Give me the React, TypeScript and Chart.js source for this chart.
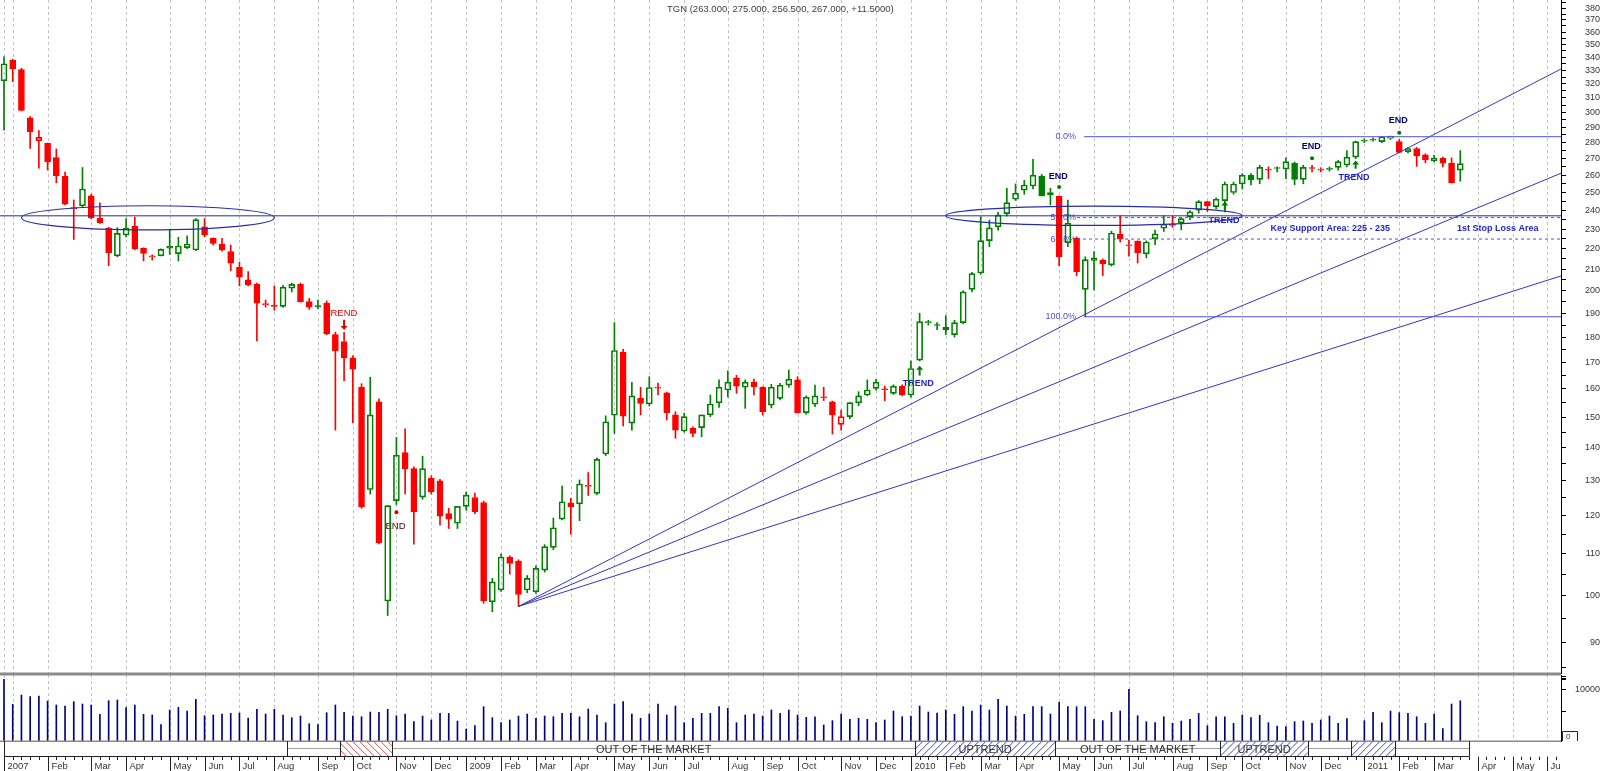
import { useEffect, useRef } from "react";
import { Chart, registerables } from "chart.js";

Chart.register(...registerables);

const FONT = "'Liberation Sans', Arial, Helvetica, sans-serif";
Chart.defaults.font.family = FONT;

// ---------- weekly OHLC (bar index 0 = first week of the chart) ----------
const opens = [
  322.2, 337.8, 330.5, 296.2, 281.2, 279.5, 270.6, 259.4, 241.0, 242.6,
  248.1, 235.7, 230.5, 216.5, 227.0, 231.7, 220.2, 216.0, 216.5, 221.2,
  217.6, 220.6, 219.4, 231.3, 225.3, 222.4, 218.6, 210.9, 205.0, 202.9,
  193.8, 193.3, 193.0, 201.1, 202.9, 195.1, 193.2, 194.5, 181.0, 178.2,
  171.7, 160.6, 127.3, 155.4, 98.8, 124.1, 138.4, 133.5, 125.1, 130.6,
  129.8, 120.5, 117.9, 122.5, 125.0, 123.6, 98.6, 101.3, 109.2, 108.2,
  101.3, 100.9, 106.0, 111.6, 119.0, 123.5, 123.2, 128.2, 126.2, 138.0,
  150.7, 173.9, 148.0, 156.6, 154.6, 160.3, 158.6, 150.8, 145.4, 146.3,
  146.5, 150.8, 155.0, 159.6, 164.1, 160.6, 162.5, 160.6, 154.2, 156.6,
  161.4, 163.3, 151.6, 154.5, 156.8, 155.4, 147.6, 150.2, 155.0, 157.8,
  160.2, 160.0, 158.4, 161.0, 157.8, 170.8, 186.0, 185.0, 184.0, 181.0,
  186.0, 200.6, 208.2, 224.1, 231.2, 238.3, 246.2, 251.4, 253.7, 259.5,
  248.6, 247.9, 223.1, 225.3, 200.6, 214.3, 214.4, 212.1, 227.5, 221.5,
  223.9, 217.5, 225.1, 230.5, 232.0, 233.4, 236.6, 240.2, 244.9, 242.1,
  245.4, 250.0, 254.9, 260.1, 257.6, 263.0, 264.0, 263.7, 267.2, 257.6,
  264.5, 263.0, 263.5, 264.7, 266.1, 270.9, 281.0, 281.5, 280.6, 282.8,
  280.6, 274.3, 276.3, 272.3, 268.8, 270.2, 267.2, 263.0,
];
const highs = [
  340.3, 338.5, 331.5, 297.0, 287.7, 279.8, 276.0, 261.9, 245.8, 264.6,
  249.0, 244.2, 231.0, 230.8, 235.6, 236.4, 220.5, 217.0, 220.0, 229.6,
  225.8, 226.6, 235.6, 235.6, 225.5, 225.3, 221.9, 213.4, 208.9, 203.5,
  195.8, 202.2, 202.5, 203.5, 203.5, 196.5, 195.8, 195.4, 182.0, 181.9,
  172.5, 161.9, 164.3, 156.4, 122.7, 143.3, 146.1, 134.0, 137.3, 131.3,
  130.3, 122.0, 122.5, 126.6, 126.3, 124.0, 104.0, 110.0, 109.5, 108.5,
  104.7, 107.0, 112.3, 119.3, 128.3, 124.8, 130.1, 132.3, 136.8, 150.5,
  186.0, 175.0, 162.4, 160.6, 164.5, 162.1, 158.8, 151.9, 151.4, 146.8,
  150.8, 157.8, 163.3, 166.7, 165.0, 163.3, 163.6, 160.8, 161.7, 162.0,
  167.0, 164.5, 157.5, 161.4, 160.6, 155.6, 152.5, 155.1, 159.0, 163.3,
  163.5, 161.0, 161.5, 161.5, 170.4, 190.0, 187.0, 186.0, 189.0, 187.0,
  200.0, 208.5, 236.6, 234.8, 239.0, 252.4, 254.9, 257.0, 269.6, 260.5,
  252.4, 248.0, 245.8, 226.0, 216.0, 218.6, 215.0, 229.0, 237.1, 224.4,
  224.0, 224.0, 229.5, 237.1, 237.0, 236.0, 240.0, 245.5, 245.0, 247.0,
  256.0, 256.0, 261.0, 261.0, 266.0, 265.0, 265.0, 270.5, 268.0, 266.0,
  266.0, 264.5, 265.0, 269.0, 275.0, 281.0, 282.5, 283.0, 284.0, 284.2,
  282.0, 277.0, 277.0, 273.0, 272.0, 271.0, 270.5, 275.0,
];
const lows = [
  288.0, 321.6, 301.0, 276.4, 264.2, 263.1, 255.6, 243.0, 224.7, 242.0,
  235.5, 233.0, 211.7, 216.0, 226.0, 219.5, 214.0, 214.4, 216.5, 217.2,
  214.0, 220.0, 219.0, 226.1, 221.9, 218.8, 209.3, 202.2, 202.2, 178.4,
  192.7, 191.3, 192.5, 199.4, 194.9, 191.7, 192.0, 181.0, 145.7, 163.0,
  148.1, 122.0, 126.0, 112.5, 95.6, 123.0, 126.0, 112.4, 124.5, 126.0,
  117.4, 116.5, 116.5, 121.5, 120.5, 98.3, 96.4, 101.0, 105.0, 97.6,
  100.7, 100.5, 105.5, 111.0, 118.8, 115.0, 118.6, 125.6, 125.8, 137.5,
  144.6, 147.1, 145.7, 150.8, 153.9, 157.8, 149.1, 143.0, 145.0, 143.5,
  143.5, 150.2, 153.4, 157.1, 158.4, 153.1, 157.8, 150.8, 153.2, 156.0,
  160.6, 151.4, 151.0, 153.7, 155.8, 144.4, 145.7, 149.5, 154.0, 157.5,
  159.5, 155.8, 158.0, 157.5, 157.0, 170.5, 185.0, 183.0, 181.0, 180.0,
  185.5, 199.5, 207.5, 221.0, 229.5, 237.0, 245.5, 249.0, 252.0, 248.0,
  243.0, 211.7, 221.0, 206.9, 188.5, 200.3, 207.0, 211.5, 223.4, 216.3,
  213.0, 215.5, 222.0, 228.8, 231.0, 229.6, 235.0, 238.5, 239.5, 241.0,
  239.2, 249.0, 252.0, 254.3, 255.0, 258.0, 262.0, 258.0, 254.5, 255.0,
  262.0, 262.0, 262.5, 263.0, 265.0, 270.0, 280.0, 281.0, 280.0, 282.0,
  273.5, 273.5, 265.3, 267.5, 268.0, 265.0, 255.5, 256.5,
];
const closes = [
  335.0, 331.0, 301.3, 287.0, 283.4, 268.2, 259.6, 243.4, 241.3, 252.0,
  236.0, 233.4, 218.0, 227.8, 230.5, 219.9, 217.7, 216.3, 219.7, 220.3,
  221.4, 222.4, 235.1, 227.0, 222.7, 219.4, 212.9, 206.2, 202.7, 194.4,
  194.2, 193.0, 201.6, 202.9, 195.1, 192.6, 192.9, 181.3, 174.5, 171.7,
  167.3, 122.4, 150.8, 112.8, 122.7, 137.6, 133.5, 121.0, 133.5, 126.6,
  119.8, 119.0, 122.5, 125.7, 121.0, 98.8, 103.2, 109.2, 107.6, 100.3,
  104.0, 106.4, 111.8, 116.7, 123.8, 122.4, 128.9, 128.5, 136.3, 148.5,
  174.6, 150.4, 157.5, 154.8, 160.5, 160.4, 151.6, 145.7, 150.2, 144.6,
  150.8, 154.6, 160.6, 162.5, 161.0, 162.5, 160.8, 151.9, 160.6, 161.4,
  163.6, 151.6, 157.0, 157.5, 156.9, 150.8, 150.2, 155.1, 157.5, 159.6,
  162.5, 159.7, 161.0, 157.8, 167.6, 186.4, 186.4, 184.8, 183.0, 186.0,
  199.5, 207.9, 224.1, 230.7, 237.5, 244.3, 249.6, 254.3, 260.1, 248.1,
  250.0, 215.9, 233.2, 208.8, 214.6, 215.5, 212.5, 228.0, 225.1, 221.9,
  218.1, 223.4, 227.6, 232.6, 232.3, 235.6, 239.2, 244.9, 242.5, 246.2,
  254.9, 254.9, 260.1, 257.2, 264.7, 263.2, 264.2, 268.2, 257.6, 264.7,
  264.0, 263.5, 264.0, 268.2, 270.9, 280.6, 281.7, 282.0, 283.8, 284.0,
  273.9, 276.3, 271.7, 269.2, 270.2, 267.2, 255.5, 267.0,
];
const volumes = [
  12090, 7190, 9020, 8690, 8820, 7840, 7060, 6860, 7710, 7250,
  7060, 5230, 7900, 8040, 6530, 7060, 5230, 5100, 3200, 6080,
  6600, 5880, 8170, 4960, 5100, 5290, 5420, 5490, 4510, 6210,
  5290, 6210, 5100, 4570, 4900, 3390, 3200, 5550, 7060, 5620,
  4900, 4760, 5680, 5620, 6210, 4960, 5290, 3790, 4900, 4120,
  5420, 5420, 3920, 2350, 3000, 6730, 4570, 3590, 4120, 4900,
  5290, 4440, 4900, 4760, 5420, 5420, 4760, 6270, 5100, 3590,
  7250, 7710, 5290, 4440, 5290, 7250, 5100, 6860, 3590, 4440,
  5420, 5420, 6730, 6400, 3590, 5100, 5290, 4900, 6080, 5420,
  6080, 5100, 4640, 4760, 3140, 3990, 5290, 4250, 4440, 4250,
  3590, 4120, 5880, 4760, 4900, 6860, 5680, 5490, 6080, 5230,
  6730, 5880, 7060, 6080, 8170, 6860, 4900, 5230, 6730, 6730,
  5290, 7580, 6730, 6730, 6730, 4250, 3990, 5620, 5880, 10130,
  4960, 3790, 3590, 4760, 3460, 3920, 4250, 5420, 3000, 4760,
  4760, 3460, 5100, 4570, 5030, 3590, 2940, 2810, 3790, 3920,
  3460, 4120, 4900, 3460, 4380, 0, 3990, 5620, 3590, 5880,
  5550, 5420, 4760, 3460, 5290, 2420, 7250, 7900,
];

// ---------- axes ----------
const monthTickIdx = [
  0, 5, 10, 14, 19, 23, 27, 31, 36, 40, 45, 49,
  53, 57, 61, 65, 70, 74, 78, 83, 87, 91, 96, 100,
  104, 108, 112, 116, 121, 125, 129, 134, 138, 142, 147, 151,
  156, 160, 164, 169, 173, 177,
];
const monthTickText = [
  "2007", "Feb", "Mar", "Apr", "May", "Jun", "Jul", "Aug", "Sep", "Oct", "Nov", "Dec",
  "2009", "Feb", "Mar", "Apr", "May", "Jun", "Jul", "Aug", "Sep", "Oct", "Nov", "Dec",
  "2010", "Feb", "Mar", "Apr", "May", "Jun", "Jul", "Aug", "Sep", "Oct", "Nov", "Dec",
  "2011", "Feb", "Mar", "Apr", "May", "Jun",
];
const extraGridIdx = [1];
const priceTicks = [
  85, 90, 95, 100, 105, 110, 115, 120, 125, 130, 135, 140, 145, 150, 155, 160,
  165, 170, 175, 180, 185, 190, 195, 200, 205, 210, 215, 220, 225, 230, 235,
  240, 245, 250, 255, 260, 265, 270, 275, 280, 285, 290, 295, 300, 305, 310,
  315, 320, 325, 330, 335, 340, 345, 350, 355, 360, 365, 370, 375, 380, 385,
];
const volumeTicks = [5700, 10000, 12000, 12300, 12600];
const volumeLabelTick = 10000;

const X_MIN = -0.459;
const X_MAX = 178.55;
const Y_MIN = 83.7;
const Y_MAX = 387.2;
const VOL_MAX = 12941;

// ---------- status bar (bar-index bounds) ----------
const statusBounds = [0, 32.5, 38.5, 44.5, 104.5, 120.5, 139.5, 149.5, 154.5, 159.5, 168];
const statusKinds = ["none", "out", "down", "out", "up", "out", "up", "out", "up", "out"];
const statusTexts = ["", "", "", "OUT OF THE MARKET", "UPTREND", "OUT OF THE MARKET", "UPTREND", "", "", ""];

// ---------- drawing tools ----------
const supportLevel = 237.1;
const fibHigh = 283.8;
const fibLow = 188.5;
const fibRatios = [0, 0.5, 0.618, 1];
const fibNames = ["0.0%", "50.0%", "61.8%", "100.0%"];
const fibLineStart = [123.85, 123.05, 123.05, 123.85];
const fibLabelRight = 122.94;
const fanOriginIdx = 59;
const fanOriginVal = 97.6;
const fanEndVals = [331.0, 261.2, 206.8];

const notes = [
  { t: "TREND", x: 38.65, v: 190.1, kind: "red" },
  { t: "END", x: 44.9, v: 117.1, kind: "maroon" },
  { t: "TREND", x: 104.85, v: 161.8, kind: "blue" },
  { t: "END", x: 120.9, v: 259.5, kind: "navy" },
  { t: "TREND", x: 139.9, v: 234.5, kind: "blue" },
  { t: "END", x: 149.9, v: 277.4, kind: "navy" },
  { t: "TREND", x: 154.8, v: 258.8, kind: "blue" },
  { t: "END", x: 159.9, v: 294.3, kind: "navy" },
  { t: "Key Support Area: 225 - 235", x: 152.1, v: 230.1, kind: "blue" },
  { t: "1st Stop Loss Area", x: 171.3, v: 230.1, kind: "blue" },
];
const arrows = [
  { x: 39, from: 187.2, to: 182.9, kind: "red" },
  { x: 105, from: 164.9, to: 168.6, kind: "green" },
  { x: 140, from: 239.9, to: 244.9, kind: "green" },
  { x: 155, from: 263.9, to: 268.9, kind: "green" },
];
const dots = [
  { x: 45, v: 120.9, kind: "red" },
  { x: 121, v: 253.1, kind: "green" },
  { x: 150, v: 270.2, kind: "green" },
  { x: 160, v: 286.3, kind: "green" },
];
const ellipses = [
  { x0: 2.0, x1: 31.0, top: 242.6, bottom: 229.6 },
  { x0: 108.0, x1: 142.0, top: 242.4, bottom: 232.0 },
];

const GREEN = "#008000";
const RED = "#ff0000";

function inUptrend(i: number) {
  for (let k = 0; k < statusKinds.length; k++) {
    if (statusKinds[k] === "up" && i >= statusBounds[k] && i < statusBounds[k + 1]) return true;
  }
  return false;
}

const idx = closes.map((_, i) => i);
const candleColors = idx.map((i) => {
  const o = opens[i];
  const c = closes[i];
  const prev = i > 0 ? closes[i - 1] : o;
  if (c < o) return inUptrend(i) || c >= prev ? GREEN : RED;
  return c >= prev ? GREEN : RED;
});
const candleFills = idx.map((i) => (closes[i] < opens[i] ? candleColors[i] : "rgba(255,255,255,0)"));

const last = closes.length - 1;
const titleText =
  "TGN (" +
  opens[last].toFixed(3) + ", " +
  highs[last].toFixed(3) + ", " +
  lows[last].toFixed(3) + ", " +
  closes[last].toFixed(3) + ", " +
  (closes[last] - closes[last - 1] >= 0 ? "+" : "") +
  (closes[last] - closes[last - 1]).toFixed(4) + ")";

function gridLines(chart: any) {
  const { ctx, chartArea: a, scales } = chart;
  const xs = scales.x;
  ctx.save();
  ctx.strokeStyle = "#c2c2c2";
  ctx.lineWidth = 1;
  ctx.setLineDash([3, 3]);
  const all = monthTickIdx.concat(extraGridIdx);
  for (const m of all) {
    const px = Math.round(xs.getPixelForValue(m)) + 0.5;
    ctx.beginPath();
    ctx.moveTo(px, a.top);
    ctx.lineTo(px, a.bottom);
    ctx.stroke();
  }
  ctx.restore();
}

const mainPlugin = {
  id: "mainDecor",
  beforeDraw(chart: any) {
    const { ctx, width, height } = chart;
    ctx.save();
    ctx.fillStyle = "#ffffff";
    ctx.fillRect(0, 0, width, height);
    ctx.restore();
  },
  beforeDatasetsDraw(chart: any) {
    gridLines(chart);
    const { ctx, scales } = chart;
    const xs = scales.x;
    const ys = scales.y;
    ctx.save();
    ctx.textBaseline = "middle";
    // fib labels
    ctx.font = "9px " + FONT;
    ctx.fillStyle = "#4c4cd4";
    ctx.textAlign = "right";
    fibRatios.forEach((r, k) => {
      const v = fibHigh - r * (fibHigh - fibLow);
      ctx.fillText(fibNames[k], xs.getPixelForValue(fibLabelRight), ys.getPixelForValue(v));
    });
    // notes
    ctx.textAlign = "center";
    for (const n of notes) {
      let color = "#1f1fd0";
      let font = "bold 9px " + FONT;
      if (n.kind === "red") { color = "#e60000"; font = "9.5px " + FONT; }
      if (n.kind === "maroon") { color = "#5a0000"; font = "9.5px " + FONT; }
      if (n.kind === "navy") { color = "#000070"; }
      ctx.fillStyle = color;
      ctx.font = font;
      ctx.fillText(n.t, xs.getPixelForValue(n.x), ys.getPixelForValue(n.v));
    }
    ctx.restore();
  },
  afterDatasetsDraw(chart: any) {
    const { ctx, scales, chartArea: a } = chart;
    const xs = scales.x;
    const ys = scales.y;
    ctx.save();
    ctx.beginPath();
    ctx.rect(a.left, a.top, a.right - a.left, a.bottom - a.top);
    ctx.clip();
    // ellipses
    ctx.strokeStyle = "#2b2ba6";
    ctx.lineWidth = 1.2;
    for (const e of ellipses) {
      const x0 = xs.getPixelForValue(e.x0);
      const x1 = xs.getPixelForValue(e.x1);
      const y0 = ys.getPixelForValue(e.top);
      const y1 = ys.getPixelForValue(e.bottom);
      ctx.beginPath();
      ctx.ellipse((x0 + x1) / 2, (y0 + y1) / 2, (x1 - x0) / 2, (y1 - y0) / 2, 0, 0, Math.PI * 2);
      ctx.stroke();
    }
    // arrows
    for (const ar of arrows) {
      const x = xs.getPixelForValue(ar.x);
      const yf = ys.getPixelForValue(ar.from);
      const yt = ys.getPixelForValue(ar.to);
      const dir = yt > yf ? 1 : -1;
      const color = ar.kind === "red" ? "#e00000" : "#007a00";
      ctx.fillStyle = color;
      ctx.fillRect(x - 1, Math.min(yf, yt - dir * 3.5), 2, Math.abs(yt - dir * 3.5 - yf));
      ctx.beginPath();
      ctx.moveTo(x - 3.5, yt - dir * 4);
      ctx.lineTo(x + 3.5, yt - dir * 4);
      ctx.lineTo(x, yt);
      ctx.closePath();
      ctx.fill();
    }
    // dots
    for (const d of dots) {
      ctx.fillStyle = d.kind === "red" ? "#e00000" : "#007a00";
      ctx.beginPath();
      ctx.arc(xs.getPixelForValue(d.x), ys.getPixelForValue(d.v), 2, 0, Math.PI * 2);
      ctx.fill();
    }
    ctx.restore();
    // title
    ctx.save();
    ctx.font = "9.5px " + FONT;
    ctx.fillStyle = "#404040";
    ctx.textAlign = "left";
    ctx.textBaseline = "middle";
    ctx.fillText(titleText, 667, 9.5);
    // separator
    ctx.fillStyle = "#8a8a8a";
    ctx.fillRect(0, a.bottom - 1.5, a.right, 1.5);
    ctx.restore();
  },
};

function hatch(ctx: any, x0: number, x1: number, y0: number, y1: number, color: string, dir: number) {
  ctx.save();
  ctx.beginPath();
  ctx.rect(x0, y0, x1 - x0, y1 - y0);
  ctx.clip();
  ctx.strokeStyle = color;
  ctx.lineWidth = 1;
  ctx.beginPath();
  const h = y1 - y0;
  for (let x = x0 - h; x < x1 + h; x += 7) {
    if (dir > 0) {
      ctx.moveTo(x, y1);
      ctx.lineTo(x + h, y0);
    } else {
      ctx.moveTo(x, y0);
      ctx.lineTo(x + h, y1);
    }
  }
  ctx.stroke();
  ctx.restore();
}

const volPlugin = {
  id: "volDecor",
  beforeDraw(chart: any) {
    const { ctx, width, height } = chart;
    ctx.save();
    ctx.fillStyle = "#ffffff";
    ctx.fillRect(0, 0, width, height);
    ctx.restore();
  },
  beforeDatasetsDraw(chart: any) {
    gridLines(chart);
  },
  afterDraw(chart: any) {
    const { ctx, scales, chartArea: a } = chart;
    const xs = scales.x;
    const X = (v: number) => xs.getPixelForValue(v);
    ctx.save();
    // separators
    ctx.fillStyle = "#8a8a8a";
    ctx.fillRect(0, 0, a.right, 1.5);
    ctx.fillRect(0, a.bottom - 0.5, a.right, 1.5);
    // status bar
    const top = a.bottom + 1;
    const bot = a.bottom + 15.5;
    for (let k = 0; k < statusKinds.length; k++) {
      const x0 = X(statusBounds[k]);
      const x1 = X(statusBounds[k + 1]);
      const kind = statusKinds[k];
      if (kind === "out") {
        ctx.fillStyle = "#a0a0a0";
        ctx.fillRect(x0, top + 6, x1 - x0, 1);
      } else if (kind === "up") {
        hatch(ctx, x0, x1, top, bot, "#4646a8", 1);
      } else if (kind === "down") {
        hatch(ctx, x0, x1, top, bot, "#d84a4a", -1);
      }
      if (statusTexts[k]) {
        ctx.font = "11px " + FONT;
        ctx.fillStyle = "#333333";
        ctx.textAlign = "center";
        ctx.textBaseline = "middle";
        ctx.fillText(statusTexts[k], (x0 + x1) / 2, (top + bot) / 2 + 0.5);
      }
    }
    ctx.strokeStyle = "#222222";
    ctx.lineWidth = 1;
    for (const b of statusBounds) {
      const px = Math.round(X(b)) + 0.5;
      ctx.beginPath();
      ctx.moveTo(px, top - 1);
      ctx.lineTo(px, bot);
      ctx.stroke();
    }
    ctx.beginPath();
    ctx.moveTo(X(statusBounds[0]), bot);
    ctx.lineTo(X(statusBounds[statusBounds.length - 1]), bot);
    ctx.stroke();
    // month row
    const rowTop = bot;
    const rowBot = chart.height;
    ctx.save();
    ctx.beginPath();
    ctx.rect(0, rowTop, a.right, rowBot - rowTop);
    ctx.clip();
    ctx.strokeStyle = "#222222";
    for (let w = 0; w <= Math.floor(X_MAX); w++) {
      const px = Math.round(X(w)) + 0.5;
      ctx.beginPath();
      ctx.moveTo(px, rowTop);
      ctx.lineTo(px, rowTop + 3.5);
      ctx.stroke();
    }
    ctx.font = "9.5px " + FONT;
    ctx.fillStyle = "#333333";
    ctx.textAlign = "left";
    ctx.textBaseline = "alphabetic";
    monthTickIdx.forEach((m, k) => {
      const px = Math.round(X(m)) + 0.5;
      ctx.beginPath();
      ctx.moveTo(px, rowTop);
      ctx.lineTo(px, rowBot);
      ctx.stroke();
      ctx.fillText(monthTickText[k], px + 3, rowBot - 2);
    });
    ctx.restore();
    // zero box on volume axis
    ctx.strokeStyle = "#222222";
    ctx.lineWidth = 1;
    ctx.beginPath();
    ctx.moveTo(a.right + 1.5, a.bottom);
    ctx.lineTo(a.right + 1.5, a.bottom - 9.5);
    ctx.lineTo(a.right + 16.5, a.bottom - 9.5);
    ctx.lineTo(a.right + 16.5, a.bottom);
    ctx.stroke();
    ctx.font = "8px " + FONT;
    ctx.fillStyle = "#333333";
    ctx.textAlign = "left";
    ctx.textBaseline = "middle";
    ctx.fillText("0", a.right + 5, a.bottom - 4.5);
    ctx.restore();
  },
};

export default function App() {
  const mainRef = useRef<HTMLCanvasElement>(null);
  const volRef = useRef<HTMLCanvasElement>(null);

  useEffect(() => {
    const xScale = {
      type: "linear",
      min: X_MIN,
      max: X_MAX,
      offset: false,
      display: false,
    };

    const datasets: any[] = [
      {
        type: "bar",
        label: "upper wick",
        data: idx.map((i) => ({ x: i, y: [Math.max(opens[i], closes[i]), highs[i]] })),
        backgroundColor: candleColors,
        borderWidth: 0,
        barThickness: 1,
        grouped: false,
        order: 3,
      },
      {
        type: "bar",
        label: "lower wick",
        data: idx.map((i) => ({ x: i, y: [lows[i], Math.min(opens[i], closes[i])] })),
        backgroundColor: candleColors,
        borderWidth: 0,
        barThickness: 1,
        grouped: false,
        order: 3,
      },
      {
        type: "bar",
        label: "body",
        data: idx.map((i) => ({
          x: i,
          y: [Math.min(opens[i], closes[i]), Math.max(opens[i], closes[i])],
        })),
        backgroundColor: candleFills,
        borderColor: candleColors,
        borderWidth: 1,
        borderSkipped: false,
        barThickness: 6,
        minBarLength: 1,
        grouped: false,
        order: 2,
      },
      {
        type: "line",
        label: "support",
        data: [
          { x: X_MIN, y: supportLevel },
          { x: X_MAX, y: supportLevel },
        ],
        borderColor: "#2a2a9c",
        borderWidth: 1,
        pointRadius: 0,
        order: 1,
      },
    ];
    fibRatios.forEach((r, k) => {
      const v = fibHigh - r * (fibHigh - fibLow);
      datasets.push({
        type: "line",
        label: "fib" + k,
        data: [
          { x: fibLineStart[k], y: v },
          { x: X_MAX, y: v },
        ],
        borderColor: "#5252d6",
        borderWidth: 1,
        borderDash: r === 0 || r === 1 ? [] : [3, 3],
        pointRadius: 0,
        order: 1,
      });
    });
    fanEndVals.forEach((v, k) => {
      datasets.push({
        type: "line",
        label: "fan" + k,
        data: [
          { x: fanOriginIdx, y: fanOriginVal },
          { x: X_MAX, y: v },
        ],
        borderColor: "#3535c2",
        borderWidth: 1,
        pointRadius: 0,
        order: 1,
      });
    });

    const main = new Chart(mainRef.current as HTMLCanvasElement, {
      type: "bar",
      data: { datasets },
      options: {
        animation: false,
        responsive: false,
        devicePixelRatio: 1,
        events: [],
        layout: { padding: { left: 0, right: 0, top: 0, bottom: 0 } },
        plugins: { legend: { display: false }, tooltip: { enabled: false }, title: { display: false } },
        scales: {
          x: xScale,
          y: {
            type: "logarithmic",
            position: "right",
            min: Y_MIN,
            max: Y_MAX,
            beginAtZero: false,
            afterBuildTicks: (s: any) => {
              s.ticks = priceTicks.map((v) => ({ value: v }));
            },
            afterFit: (s: any) => {
              s.width = 39;
              s.paddingTop = 0;
              s.paddingBottom = 0;
            },
            grid: { display: true, drawOnChartArea: false, drawTicks: true, tickLength: 5, color: "#000000", lineWidth: 1 },
            border: { display: true, color: "#000000", width: 1 },
            ticks: {
              autoSkip: false,
              maxRotation: 0,
              crossAlign: "far",
              padding: 14,
              color: "#333333",
              font: { family: FONT, size: 9 },
              callback: (v: any) => (Number(v) % 10 === 0 ? String(v) : ""),
            },
          },
        },
      } as any,
      plugins: [mainPlugin],
    } as any);

    const vol = new Chart(volRef.current as HTMLCanvasElement, {
      type: "bar",
      data: {
        datasets: [
          {
            label: "volume",
            data: idx.map((i) => ({ x: i, y: volumes[i] })),
            backgroundColor: "#000080",
            borderWidth: 0,
            barThickness: 1,
            grouped: false,
          },
        ],
      },
      options: {
        animation: false,
        responsive: false,
        devicePixelRatio: 1,
        events: [],
        layout: { padding: { left: 0, right: 0, top: 1, bottom: 30 } },
        plugins: { legend: { display: false }, tooltip: { enabled: false }, title: { display: false } },
        scales: {
          x: xScale,
          y: {
            type: "linear",
            position: "right",
            min: 0,
            max: VOL_MAX,
            beginAtZero: true,
            afterBuildTicks: (s: any) => {
              s.ticks = volumeTicks.map((v) => ({ value: v }));
            },
            afterFit: (s: any) => {
              s.width = 39;
              s.paddingTop = 0;
              s.paddingBottom = 0;
            },
            grid: { display: true, drawOnChartArea: false, drawTicks: true, tickLength: 5, color: "#000000", lineWidth: 1 },
            border: { display: true, color: "#000000", width: 1 },
            ticks: {
              autoSkip: false,
              maxRotation: 0,
              crossAlign: "far",
              padding: 1,
              color: "#333333",
              font: { family: FONT, size: 9 },
              callback: (v: any) => (Number(v) === volumeLabelTick ? String(v) : ""),
            },
          },
        },
      } as any,
      plugins: [volPlugin],
    } as any);

    return () => {
      main.destroy();
      vol.destroy();
    };
  }, []);

  return (
    <div
      style={{
        position: "absolute",
        left: 0,
        top: 0,
        width: 1600,
        height: 771,
        background: "#ffffff",
        overflow: "hidden",
      }}
    >
      <canvas
        ref={mainRef}
        width={1600}
        height={674}
        style={{ position: "absolute", left: 0, top: 0, width: 1600, height: 674 }}
      />
      <canvas
        ref={volRef}
        width={1600}
        height={97}
        style={{ position: "absolute", left: 0, top: 674, width: 1600, height: 97 }}
      />
    </div>
  );
}
